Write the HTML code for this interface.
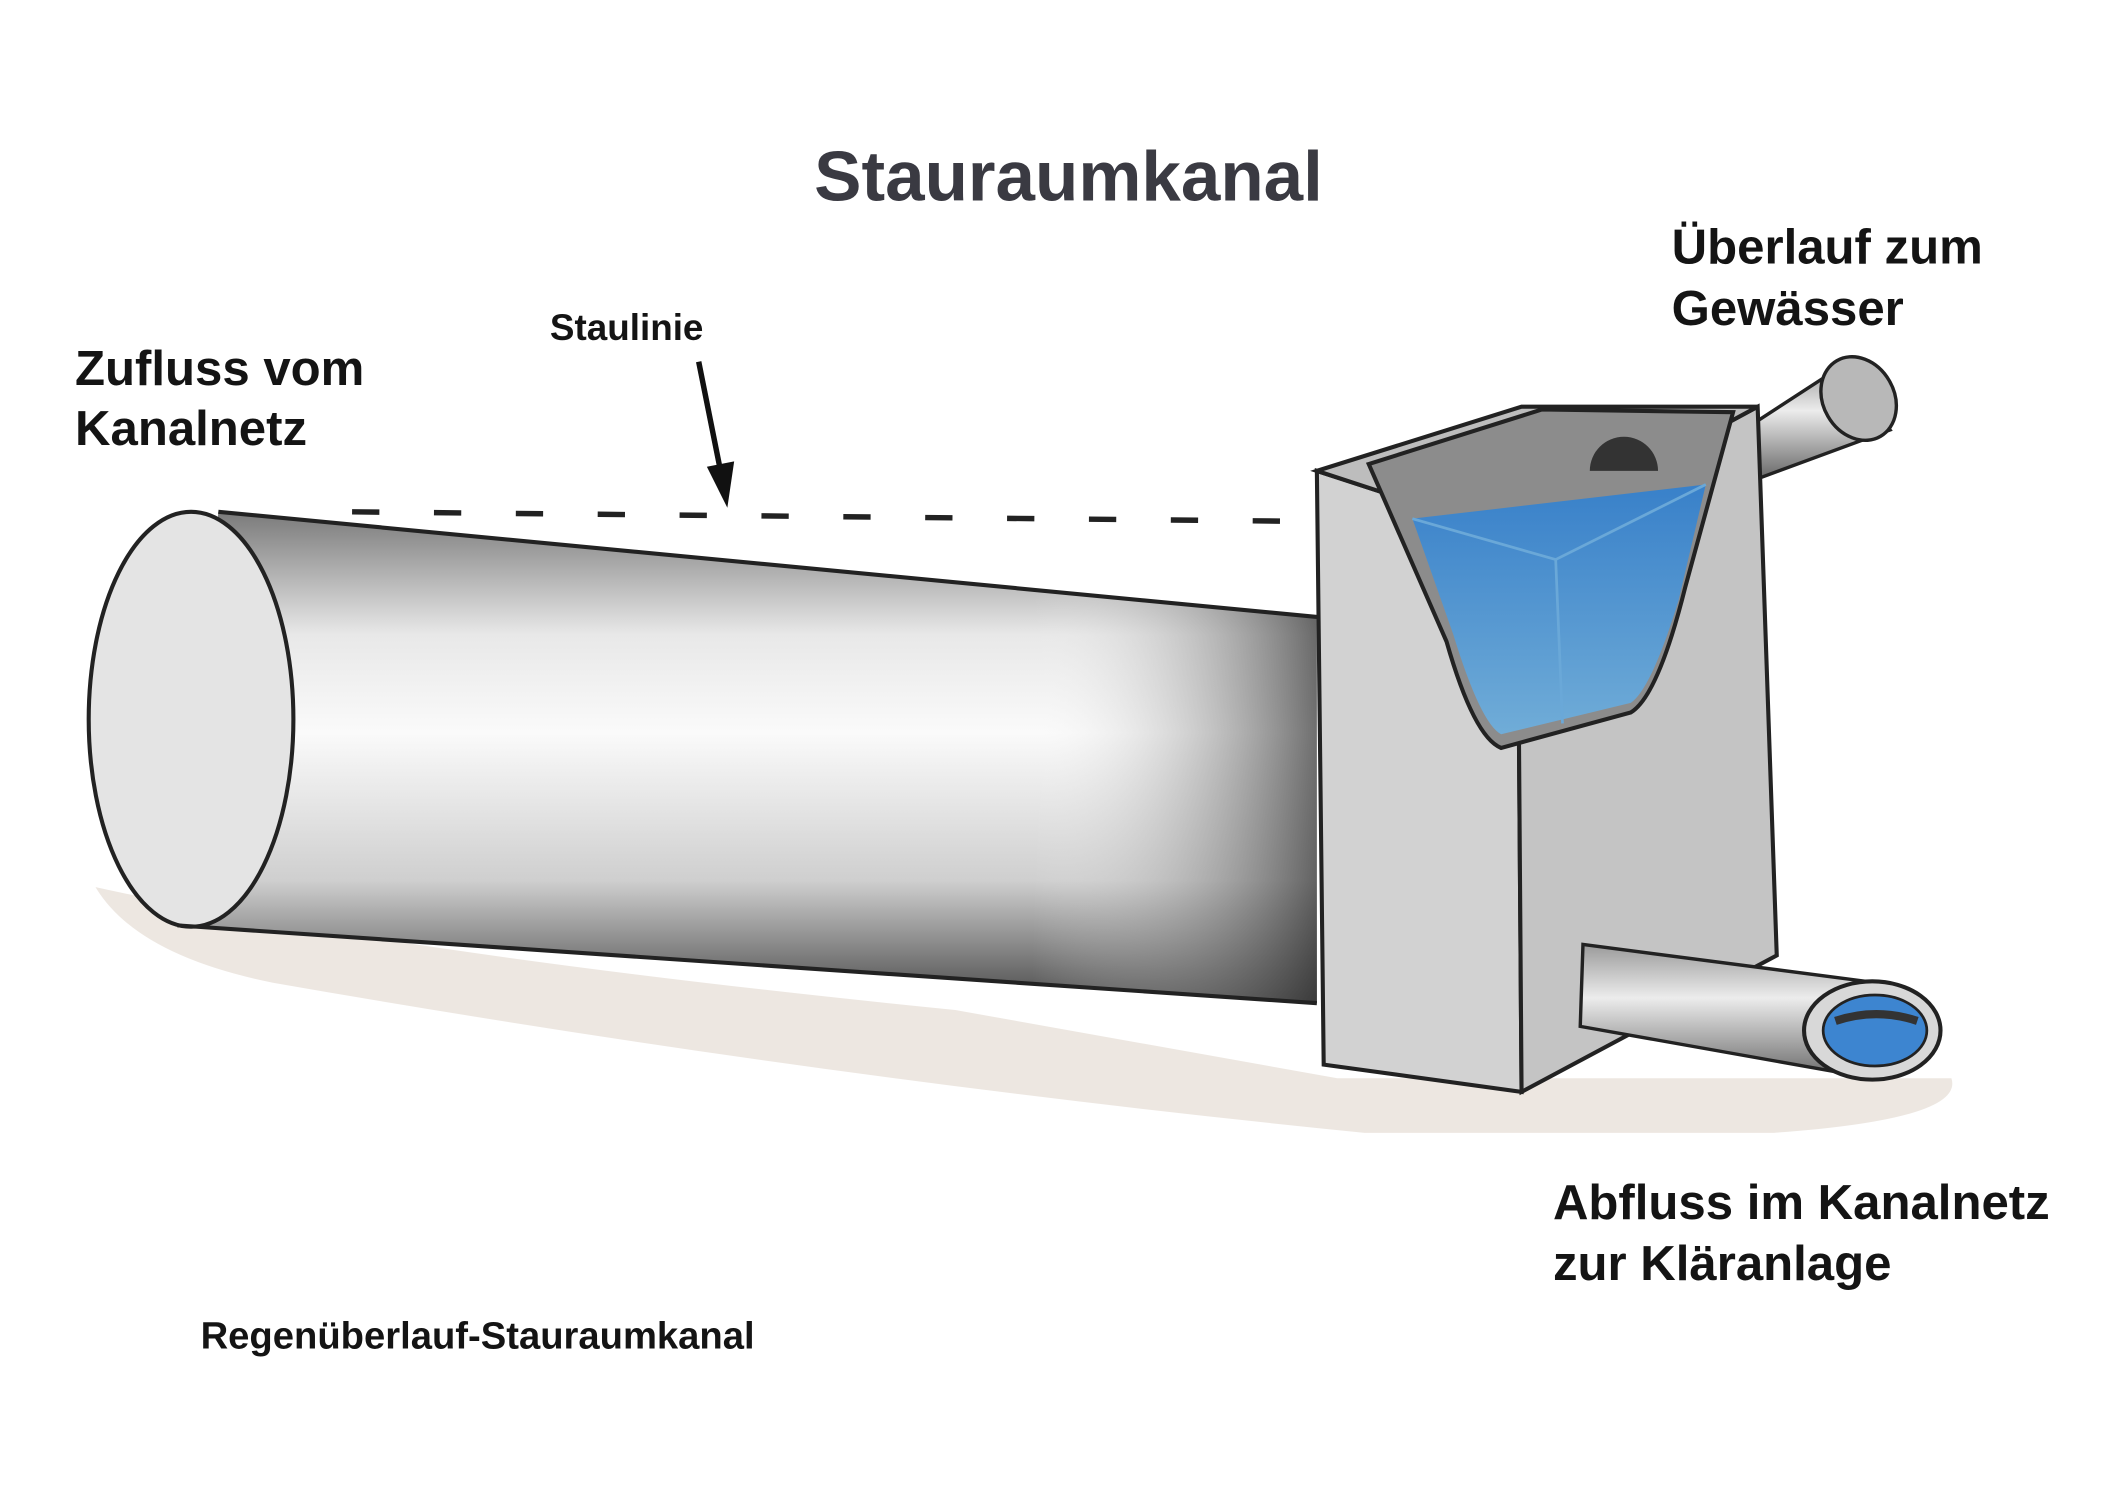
<!DOCTYPE html>
<html><head><meta charset="utf-8"><style>
html,body{margin:0;padding:0;background:#fff;}
svg{display:block}
text{font-family:"Liberation Sans","DejaVu Sans",sans-serif;font-weight:bold;fill:#141414}
</style></head><body>
<svg width="2122" height="1500" viewBox="0 0 1555 1099" preserveAspectRatio="none" xmlns="http://www.w3.org/2000/svg">
<defs>
<linearGradient id="pipe" x1="0" y1="0" x2="0" y2="1">
<stop offset="0" stop-color="#7a7a7a"/><stop offset="0.25" stop-color="#e8e8e8"/><stop offset="0.45" stop-color="#fafafa"/><stop offset="0.75" stop-color="#cfcfcf"/><stop offset="1" stop-color="#4a4a4a"/>
</linearGradient>
<linearGradient id="pipeR" x1="0" y1="0" x2="1" y2="0">
<stop offset="0" stop-color="#fff" stop-opacity="0"/><stop offset="0.75" stop-color="#fff" stop-opacity="0"/><stop offset="1" stop-color="#333" stop-opacity="0.7"/>
</linearGradient>
<linearGradient id="small" x1="0" y1="0" x2="0" y2="1">
<stop offset="0" stop-color="#9a9a9a"/><stop offset="0.4" stop-color="#ececec"/><stop offset="1" stop-color="#6a6a6a"/>
</linearGradient>
<linearGradient id="water" x1="0" y1="0" x2="0" y2="1">
<stop offset="0" stop-color="#2f7fd0"/><stop offset="1" stop-color="#6db0e0"/>
</linearGradient>
</defs>
<!-- ground -->
<path d="M70 650 Q300 700 700 740 L980 790 L1430 790 Q1440 820 1300 830 L1000 830 Q600 790 200 720 Q100 700 70 650Z" fill="#d8cabd" opacity="0.45"/>
<!-- big pipe -->
<path d="M160 375 L965 452 L965 735 L130 678 Z" fill="url(#pipe)"/>
<path d="M160 375 L965 452 L965 735 L130 678 Z" fill="url(#pipeR)"/>
<ellipse cx="140" cy="527" rx="75" ry="152" fill="#e4e4e4" stroke="#222" stroke-width="3"/>
<path d="M160 375 L965 452 M130 678 L965 735" stroke="#222" stroke-width="3" fill="none"/>
<!-- dashed staulinie -->
<line x1="258" y1="375" x2="960" y2="382" stroke="#222" stroke-width="4" stroke-dasharray="20,40"/>
<!-- arrow -->
<line x1="512" y1="265" x2="528" y2="345" stroke="#111" stroke-width="4"/>
<polygon points="518,342 538,338 533,372" fill="#111"/>
<!-- upper pipe -->
<path d="M1270 320 L1350 268 L1385 315 L1290 350 Z" fill="url(#small)" stroke="#222" stroke-width="2.5"/>
<ellipse cx="1362" cy="292" rx="26" ry="32" transform="rotate(-30 1362 292)" fill="#b8b8b8" stroke="#222" stroke-width="2.5"/>
<!-- box -->
<polygon points="965,345 1112,393 1115,800 970,780" fill="#d2d2d2" stroke="#222" stroke-width="3"/>
<polygon points="1112,393 1288,298 1302,700 1115,800" fill="#c4c4c4" stroke="#222" stroke-width="3"/>
<polygon points="965,345 1115,298 1288,298 1112,393" fill="#bdbdbd" stroke="#222" stroke-width="3"/>
<!-- inner opening -->
<path d="M1003 340 L1130 300 L1270 302 L1235 430 Q1215 510 1195 522 L1100 548 Q1080 540 1060 470 Z" fill="#8c8c8c" stroke="#222" stroke-width="3"/>
<path d="M1165 345 A25 25 0 0 1 1215 345 Z" fill="#333"/>
<path d="M1035 380 L1250 355 L1230 440 Q1210 505 1195 515 L1100 538 Q1085 530 1065 465 Z" fill="url(#water)" opacity="0.9"/>
<path d="M1035 380 L1140 410 L1250 355 M1140 410 L1145 530" stroke="#6aa8d8" stroke-width="2" fill="none"/>
<!-- lower pipe -->
<path d="M1160 692 L1375 720 L1372 790 L1158 752 Z" fill="url(#small)" stroke="#222" stroke-width="2.5"/>
<ellipse cx="1372" cy="755" rx="50" ry="36" fill="#d8d8d8" stroke="#222" stroke-width="3"/>
<ellipse cx="1374" cy="755" rx="38" ry="26" fill="#3d85d0" stroke="#222" stroke-width="2"/>
<path d="M1345 748 Q1375 738 1405 748" stroke="#333" stroke-width="6" fill="none"/>
<!-- text -->
<text x="783" y="147" font-size="52" text-anchor="middle" style="fill:#3a3a42">Stauraumkanal</text>
<text x="1225" y="193" font-size="36">Überlauf zum</text>
<text x="1225" y="238" font-size="36">Gewässer</text>
<text x="403" y="249" font-size="27">Staulinie</text>
<text x="55" y="282" font-size="36">Zufluss vom</text>
<text x="55" y="326" font-size="36">Kanalnetz</text>
<text x="1138" y="893" font-size="36">Abfluss im Kanalnetz</text>
<text x="1138" y="938" font-size="36">zur Kläranlage</text>
<text x="147" y="988" font-size="28">Regenüberlauf-Stauraumkanal</text>
</svg>
</body></html>
